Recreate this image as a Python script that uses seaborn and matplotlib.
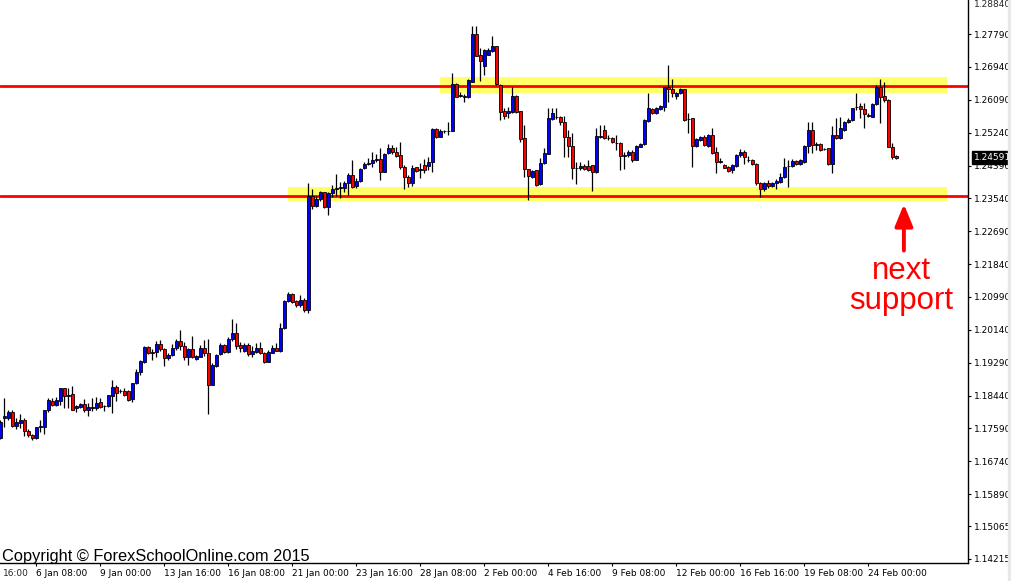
import matplotlib
matplotlib.use("Agg")
import matplotlib.pyplot as plt
from matplotlib.patches import Rectangle
import numpy as np
import seaborn as sns

# H4 candles (open, high, low, close)
opens = [1.1734, 1.1787, 1.1787, 1.1801, 1.1766, 1.1774, 1.1781, 1.1753, 1.1742, 1.1734,
         1.1764, 1.1764, 1.1807, 1.1830, 1.1820, 1.1831, 1.1863, 1.1844, 1.1847, 1.1813,
         1.1815, 1.1822, 1.1808, 1.1811, 1.1811, 1.1827, 1.1817, 1.1817, 1.1844, 1.1865,
         1.1856, 1.1856, 1.1856, 1.1834, 1.1876, 1.1904, 1.1932, 1.1969, 1.1958, 1.1956,
         1.1977, 1.1964, 1.1942, 1.1949, 1.1966, 1.1985, 1.1972, 1.1945, 1.1964, 1.1939,
         1.1945, 1.1967, 1.1953, 1.1871, 1.1921, 1.1951, 1.1975, 1.1958, 1.1990, 1.2005,
         1.1975, 1.1959, 1.1974, 1.1951, 1.1956, 1.1966, 1.1953, 1.1932, 1.1955, 1.1966,
         1.1959, 1.2018, 1.2089, 1.2108, 1.2089, 1.2077, 1.2091, 1.2065, 1.2360, 1.2333,
         1.2352, 1.2370, 1.2331, 1.2367, 1.2378, 1.2380, 1.2382, 1.2393, 1.2414, 1.2387,
         1.2399, 1.2432, 1.2443, 1.2445, 1.2453, 1.2455, 1.2423, 1.2472, 1.2483, 1.2475,
         1.2466, 1.2436, 1.2408, 1.2393, 1.2434, 1.2427, 1.2440, 1.2438, 1.2449, 1.2533,
         1.2514, 1.2527, 1.2527, 1.2529, 1.2650, 1.2619, 1.2619, 1.2615, 1.2656, 1.2779,
         1.2725, 1.2696, 1.2726, 1.2736, 1.2748, 1.2647, 1.2581, 1.2574, 1.2578, 1.2619,
         1.2580, 1.2511, 1.2429, 1.2408, 1.2427, 1.2390, 1.2445, 1.2470, 1.2558, 1.2565,
         1.2565, 1.2551, 1.2512, 1.2489, 1.2432, 1.2432, 1.2439, 1.2439, 1.2440, 1.2421,
         1.2514, 1.2531, 1.2510, 1.2511, 1.2497, 1.2496, 1.2463, 1.2466, 1.2475, 1.2453,
         1.2488, 1.2494, 1.2554, 1.2585, 1.2574, 1.2585, 1.2591, 1.2643, 1.2637, 1.2619,
         1.2626, 1.2637, 1.2558, 1.2561, 1.2490, 1.2506, 1.2514, 1.2490, 1.2518, 1.2473,
         1.2449, 1.2440, 1.2436, 1.2427, 1.2438, 1.2465, 1.2475, 1.2453, 1.2453, 1.2442,
         1.2393, 1.2377, 1.2393, 1.2386, 1.2393, 1.2397, 1.2409, 1.2438, 1.2438, 1.2451,
         1.2442, 1.2449, 1.2489, 1.2531, 1.2493, 1.2494, 1.2481, 1.2484, 1.2442, 1.2518,
         1.2509, 1.2531, 1.2551, 1.2557, 1.2590, 1.2593, 1.2584, 1.2569, 1.2565, 1.2597,
         1.2643, 1.2619, 1.2608, 1.2488, 1.2464]
highs = [1.1781, 1.1839, 1.1807, 1.1807, 1.1785, 1.1796, 1.1785, 1.1758, 1.1745, 1.1764,
         1.1781, 1.1808, 1.1837, 1.1837, 1.1841, 1.1863, 1.1864, 1.1863, 1.1869, 1.1820,
         1.1826, 1.1834, 1.1824, 1.1837, 1.1841, 1.1837, 1.1820, 1.1846, 1.1884, 1.1871,
         1.1860, 1.1863, 1.1858, 1.1877, 1.1912, 1.1936, 1.1971, 1.1973, 1.1964, 1.1985,
         1.1988, 1.1966, 1.1953, 1.1977, 1.1990, 1.2014, 1.1983, 1.1966, 1.1998, 1.1949,
         1.1974, 1.1988, 1.1990, 1.1929, 1.1952, 1.1979, 1.1977, 1.1996, 1.2041, 1.2031,
         1.1983, 1.1979, 1.1979, 1.1971, 1.1981, 1.1983, 1.1958, 1.1962, 1.1974, 1.1979,
         1.2031, 1.2091, 1.2111, 1.2110, 1.2091, 1.2104, 1.2096, 1.2395, 1.2377, 1.2360,
         1.2373, 1.2371, 1.2371, 1.2389, 1.2417, 1.2397, 1.2400, 1.2419, 1.2453, 1.2406,
         1.2432, 1.2449, 1.2458, 1.2473, 1.2470, 1.2483, 1.2472, 1.2495, 1.2492, 1.2488,
         1.2501, 1.2440, 1.2414, 1.2440, 1.2436, 1.2445, 1.2455, 1.2462, 1.2535, 1.2535,
         1.2533, 1.2531, 1.2552, 1.2677, 1.2653, 1.2630, 1.2624, 1.2662, 1.2800, 1.2800,
         1.2742, 1.2740, 1.2742, 1.2775, 1.2749, 1.2649, 1.2589, 1.2591, 1.2643, 1.2621,
         1.2581, 1.2545, 1.2429, 1.2427, 1.2427, 1.2459, 1.2483, 1.2589, 1.2587, 1.2587,
         1.2568, 1.2567, 1.2531, 1.2522, 1.2449, 1.2447, 1.2443, 1.2453, 1.2441, 1.2537,
         1.2544, 1.2544, 1.2518, 1.2514, 1.2518, 1.2501, 1.2475, 1.2479, 1.2479, 1.2492,
         1.2496, 1.2558, 1.2626, 1.2587, 1.2591, 1.2596, 1.2643, 1.2699, 1.2663, 1.2630,
         1.2639, 1.2637, 1.2574, 1.2561, 1.2511, 1.2515, 1.2518, 1.2521, 1.2535, 1.2486,
         1.2458, 1.2443, 1.2438, 1.2444, 1.2469, 1.2481, 1.2479, 1.2464, 1.2456, 1.2445,
         1.2397, 1.2397, 1.2402, 1.2397, 1.2403, 1.2419, 1.2458, 1.2453, 1.2455, 1.2453,
         1.2456, 1.2492, 1.2552, 1.2552, 1.2501, 1.2496, 1.2484, 1.2484, 1.2541, 1.2561,
         1.2565, 1.2554, 1.2561, 1.2589, 1.2626, 1.2600, 1.2600, 1.2574, 1.2600, 1.2647,
         1.2662, 1.2656, 1.2610, 1.2496, 1.2466]
lows = [1.1731, 1.1764, 1.1781, 1.1764, 1.1757, 1.1759, 1.1740, 1.1738, 1.1729, 1.1731,
        1.1751, 1.1745, 1.1802, 1.1817, 1.1817, 1.1820, 1.1811, 1.1811, 1.1807, 1.1802,
        1.1811, 1.1802, 1.1790, 1.1804, 1.1807, 1.1811, 1.1804, 1.1815, 1.1798, 1.1831,
        1.1850, 1.1843, 1.1831, 1.1828, 1.1873, 1.1897, 1.1929, 1.1951, 1.1936, 1.1945,
        1.1960, 1.1921, 1.1936, 1.1946, 1.1962, 1.1962, 1.1936, 1.1923, 1.1940, 1.1936,
        1.1943, 1.1946, 1.1796, 1.1871, 1.1917, 1.1949, 1.1953, 1.1955, 1.1986, 1.1964,
        1.1958, 1.1958, 1.1947, 1.1943, 1.1953, 1.1952, 1.1929, 1.1932, 1.1955, 1.1959,
        1.1958, 1.2016, 1.2087, 1.2084, 1.2074, 1.2074, 1.2061, 1.2058, 1.2326, 1.2331,
        1.2346, 1.2328, 1.2311, 1.2358, 1.2360, 1.2354, 1.2371, 1.2363, 1.2380, 1.2380,
        1.2397, 1.2429, 1.2440, 1.2436, 1.2449, 1.2402, 1.2421, 1.2469, 1.2470, 1.2462,
        1.2429, 1.2377, 1.2384, 1.2386, 1.2423, 1.2406, 1.2420, 1.2427, 1.2423, 1.2509,
        1.2512, 1.2523, 1.2518, 1.2527, 1.2615, 1.2615, 1.2604, 1.2613, 1.2656, 1.2722,
        1.2658, 1.2673, 1.2725, 1.2733, 1.2647, 1.2557, 1.2558, 1.2561, 1.2576, 1.2576,
        1.2501, 1.2410, 1.2350, 1.2406, 1.2387, 1.2389, 1.2443, 1.2468, 1.2557, 1.2558,
        1.2544, 1.2460, 1.2460, 1.2404, 1.2390, 1.2427, 1.2427, 1.2425, 1.2374, 1.2419,
        1.2509, 1.2507, 1.2505, 1.2498, 1.2479, 1.2427, 1.2429, 1.2462, 1.2449, 1.2452,
        1.2486, 1.2492, 1.2552, 1.2571, 1.2571, 1.2583, 1.2581, 1.2604, 1.2617, 1.2611,
        1.2624, 1.2555, 1.2522, 1.2436, 1.2488, 1.2503, 1.2489, 1.2488, 1.2470, 1.2419,
        1.2445, 1.2432, 1.2423, 1.2419, 1.2436, 1.2462, 1.2443, 1.2449, 1.2440, 1.2389,
        1.2358, 1.2374, 1.2380, 1.2383, 1.2377, 1.2395, 1.2406, 1.2384, 1.2436, 1.2440,
        1.2440, 1.2446, 1.2471, 1.2471, 1.2479, 1.2477, 1.2479, 1.2440, 1.2420, 1.2507,
        1.2508, 1.2527, 1.2548, 1.2555, 1.2583, 1.2561, 1.2537, 1.2564, 1.2565, 1.2596,
        1.2550, 1.2604, 1.2486, 1.2456, 1.2456]
closes = [1.1777, 1.1790, 1.1801, 1.1766, 1.1775, 1.1781, 1.1753, 1.1742, 1.1734, 1.1762,
          1.1765, 1.1808, 1.1833, 1.1820, 1.1833, 1.1863, 1.1844, 1.1846, 1.1808, 1.1817,
          1.1822, 1.1808, 1.1815, 1.1815, 1.1824, 1.1815, 1.1818, 1.1846, 1.1865, 1.1852,
          1.1857, 1.1846, 1.1833, 1.1876, 1.1904, 1.1934, 1.1969, 1.1953, 1.1955, 1.1977,
          1.1964, 1.1942, 1.1948, 1.1966, 1.1985, 1.1971, 1.1945, 1.1964, 1.1945, 1.1946,
          1.1967, 1.1955, 1.1871, 1.1923, 1.1949, 1.1975, 1.1956, 1.1990, 1.2005, 1.1973,
          1.1968, 1.1975, 1.1951, 1.1959, 1.1966, 1.1953, 1.1930, 1.1956, 1.1966, 1.1960,
          1.2018, 1.2089, 1.2108, 1.2087, 1.2077, 1.2090, 1.2065, 1.2360, 1.2334, 1.2352,
          1.2370, 1.2331, 1.2367, 1.2378, 1.2380, 1.2383, 1.2393, 1.2414, 1.2384, 1.2399,
          1.2430, 1.2443, 1.2445, 1.2453, 1.2455, 1.2423, 1.2470, 1.2483, 1.2475, 1.2464,
          1.2436, 1.2408, 1.2393, 1.2432, 1.2426, 1.2429, 1.2427, 1.2449, 1.2533, 1.2514,
          1.2528, 1.2528, 1.2528, 1.2650, 1.2617, 1.2621, 1.2615, 1.2660, 1.2779, 1.2723,
          1.2708, 1.2738, 1.2738, 1.2748, 1.2649, 1.2578, 1.2567, 1.2581, 1.2619, 1.2578,
          1.2508, 1.2429, 1.2413, 1.2426, 1.2389, 1.2445, 1.2472, 1.2561, 1.2574, 1.2564,
          1.2551, 1.2512, 1.2489, 1.2432, 1.2433, 1.2439, 1.2430, 1.2427, 1.2421, 1.2515,
          1.2515, 1.2509, 1.2509, 1.2501, 1.2496, 1.2464, 1.2465, 1.2473, 1.2453, 1.2489,
          1.2494, 1.2557, 1.2587, 1.2574, 1.2589, 1.2593, 1.2643, 1.2636, 1.2627, 1.2627,
          1.2637, 1.2557, 1.2559, 1.2490, 1.2508, 1.2512, 1.2492, 1.2518, 1.2472, 1.2449,
          1.2450, 1.2433, 1.2426, 1.2440, 1.2466, 1.2475, 1.2462, 1.2453, 1.2442, 1.2393,
          1.2377, 1.2393, 1.2386, 1.2393, 1.2400, 1.2410, 1.2436, 1.2439, 1.2451, 1.2442,
          1.2453, 1.2489, 1.2531, 1.2492, 1.2494, 1.2479, 1.2482, 1.2442, 1.2518, 1.2509,
          1.2535, 1.2552, 1.2557, 1.2587, 1.2591, 1.2584, 1.2571, 1.2568, 1.2598, 1.2643,
          1.2615, 1.2608, 1.2488, 1.2462, 1.2459]

date_tick_idx = [9, 25, 41, 57, 73, 89, 105, 121, 137, 153, 169, 185, 201, 217]
date_labels = ["6 Jan 08:00", "9 Jan 00:00", "13 Jan 16:00", "16 Jan 08:00",
               "21 Jan 00:00", "23 Jan 16:00", "28 Jan 08:00", "2 Feb 00:00",
               "4 Feb 16:00", "9 Feb 08:00", "12 Feb 00:00", "16 Feb 16:00",
               "19 Feb 08:00", "24 Feb 00:00"]
price_ticks = [1.27790, 1.26940, 1.26090, 1.25240, 1.24390, 1.23540, 1.22690, 1.21840,
               1.20990, 1.20140, 1.19290, 1.18440, 1.17590, 1.16740, 1.15890, 1.15065,
               1.14215]

resistance = 1.2645
support = 1.2361
resistance_zone = (1.2626, 1.2667)
support_zone = (1.2347, 1.2384)
last_price = 1.24591

sns.set_theme(style="white")
plt.rcParams['font.family'] = ['DejaVu Sans']
tick_fs = 6.5

fig = plt.figure(figsize=(10.12, 5.81), dpi=100)
ax = fig.add_axes([0, 18 / 581, 968 / 1012, 563 / 581])

o = np.array(opens)
h = np.array(highs)
l = np.array(lows)
c = np.array(closes)
x = np.arange(len(o))

# zones and levels
ax.add_patch(Rectangle((109.9, resistance_zone[0]), 236.7 - 109.9,
                       resistance_zone[1] - resistance_zone[0],
                       color="#ffff66", lw=0, zorder=1))
ax.add_patch(Rectangle((71.85, support_zone[0]), 236.7 - 71.85,
                       support_zone[1] - support_zone[0],
                       color="#ffff66", lw=0, zorder=1))
ax.axhline(resistance, color="#ff0000", lw=2, zorder=2)
ax.axhline(support, color="#ff0000", lw=2, zorder=2)

# candles
ax.vlines(x, l, h, colors="black", linewidth=0.9, zorder=3)
bottom = np.minimum(o, c)
height = np.maximum(np.abs(c - o), 0.00005)
cols = np.where(c >= o, "#0000ff", "#ff0000")
ax.bar(x, height, bottom=bottom, width=0.72, color=cols, edgecolor="black",
       linewidth=0.6, zorder=4)

ax.set_xlim(-0.075, 241.925)
ax.set_ylim(1.14111, 1.2867)

# axes styling
for side in ["left", "top"]:
    ax.spines[side].set_visible(False)
for side in ["right", "bottom"]:
    ax.spines[side].set_color("black")
    ax.spines[side].set_linewidth(1)
ax.yaxis.tick_right()
ax.set_yticks(price_ticks)
ax.set_yticklabels([f"{v:.5f}" for v in price_ticks])
ax.set_xticks(date_tick_idx)
ax.set_xticklabels(date_labels)
plt.setp(ax.get_xticklabels(), ha="left")
ax.tick_params(axis="both", which="major", direction="out", length=2.5, width=0.8,
               labelsize=tick_fs, pad=2, colors="black", right=True, bottom=True)
ax.grid(False)

# labels at the chart edges
ax.annotate("16:00", xy=(0, 0), xycoords="axes fraction",
            xytext=(2, -4.5), textcoords="offset points", ha="left", va="top",
            fontsize=tick_fs, annotation_clip=False)
ax.annotate("1.28840", xy=(1, 1), xycoords="axes fraction", xytext=(4.5, 0),
            textcoords="offset points", ha="left", va="top", fontsize=tick_fs,
            annotation_clip=False)
ax.annotate("1.24591", xy=(1, last_price), xycoords=("axes fraction", "data"),
            xytext=(4, 0), textcoords="offset points", ha="left", va="center",
            fontsize=tick_fs, color="white", annotation_clip=False, zorder=6,
            bbox=dict(boxstyle="square,pad=0.2", fc="black", ec="black"))

# arrow + note
ax.annotate("", xy=(225.9, 1.2339), xytext=(225.9, 1.2219),
            arrowprops=dict(arrowstyle="-|>,head_width=0.45,head_length=1.1",
                            color="#ff0000", lw=2.8, shrinkA=0, shrinkB=0),
            zorder=5)
ax.text(225.2, 1.2127, "next\nsupport", color="#ff0000", fontsize=22.5,
        ha="center", va="center", linespacing=1.02, family="Liberation Sans")

fig.text(2 / 1012, 1 - 561 / 581, "Copyright \u00a9 ForexSchoolOnline.com 2015",
         fontsize=11.8, family="Liberation Sans", color="black", va="baseline")

fig.patches.append(Rectangle((1008 / 1012, 0), 4 / 1012, 1, transform=fig.transFigure,
                             color="#e8e8e8", zorder=0))

fig.savefig("out.png", dpi=100)
